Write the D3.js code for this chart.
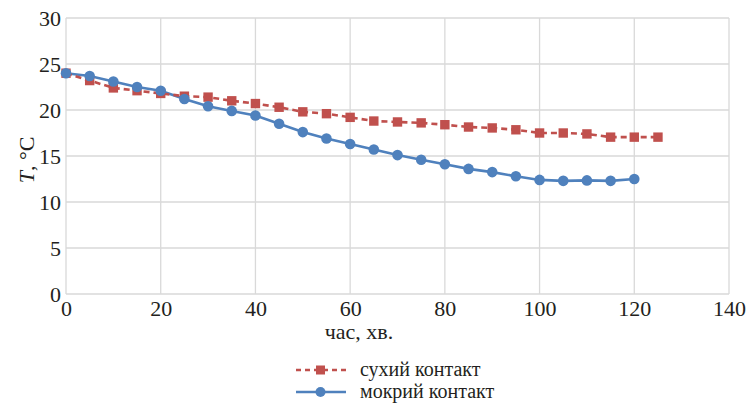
<!DOCTYPE html>
<html>
<head>
<meta charset="utf-8">
<script src="https://cdn.jsdelivr.net/npm/d3@7"></script>
<style>
  body { margin: 0; background: #fff; }
  text { font-family: "Liberation Serif", "Times New Roman", Tinos !important; }
</style>
</head>
<body>
<svg width="747" height="403"></svg>
<script>
// time in minutes
const timeDry = [0,5,10,15,20,25,30,35,40,45,50,55,60,65,70,75,80,85,90,95,100,105,110,115,120,125];
const tempDry = [24.0,23.2,22.4,22.1,21.8,21.5,21.4,21.0,20.7,20.3,19.8,19.6,19.2,18.8,18.7,18.6,18.4,18.15,18.05,17.85,17.5,17.5,17.4,17.05,17.05,17.05];
const timeWet = [0,5,10,15,20,25,30,35,40,45,50,55,60,65,70,75,80,85,90,95,100,105,110,115,120];
const tempWet = [24.0,23.7,23.1,22.5,22.1,21.2,20.4,19.9,19.4,18.5,17.6,16.9,16.3,15.7,15.1,14.6,14.1,13.6,13.25,12.8,12.4,12.3,12.35,12.3,12.5];
const xTicks = [0,20,40,60,80,100,120,140];
const yTicks = [0,5,10,15,20,25,30];
const seriesNames = ["сухий контакт", "мокрий контакт"];

const red = "#c0504d", blue = "#4f81bd", grid = "#d9d9d9", ink = "#231f20";

const svg = d3.select("svg").style("font-family", "'Liberation Serif'");
const padding = {left: 66, top: 18, right: 18, bottom: 109};
const w = 747, h = 403;

const xScale = d3.scaleLinear().domain([0, 140]).range([padding.left, w - padding.right]);
const yScale = d3.scaleLinear().domain([0, 30]).range([h - padding.bottom, padding.top]);

// grid
svg.append("g").selectAll("line").data(yTicks).enter().append("line")
  .attr("x1", xScale(0)).attr("x2", xScale(140))
  .attr("y1", d => yScale(d)).attr("y2", d => yScale(d))
  .attr("stroke", grid).attr("stroke-width", 1.3);
svg.append("g").selectAll("line").data(xTicks).enter().append("line")
  .attr("x1", d => xScale(d)).attr("x2", d => xScale(d))
  .attr("y1", yScale(0)).attr("y2", yScale(30))
  .attr("stroke", grid).attr("stroke-width", 1.3);

// axes (labels only)
const xAxis = d3.axisBottom(xScale).tickValues(xTicks).tickSize(0).tickPadding(6);
const yAxis = d3.axisLeft(yScale).tickValues(yTicks).tickSize(0).tickPadding(5);
const gx = svg.append("g").attr("transform", "translate(0," + yScale(0) + ")").call(xAxis);
const gy = svg.append("g").attr("transform", "translate(" + xScale(0) + ",0)").call(yAxis);
[gx, gy].forEach(g => {
  g.attr("font-family", null).attr("font-size", null);
  g.select(".domain").remove();
  g.selectAll("text").attr("fill", ink).attr("font-size", 22);
});
gx.selectAll("text").attr("dy", "0.71em");
gy.selectAll("text").attr("dy", "0.35em");

// axis titles
svg.append("text")
  .attr("x", 359).attr("y", 339)
  .attr("text-anchor", "middle")
  .attr("fill", ink).attr("font-size", 22)
  .text("час, хв.");

const yt = svg.append("text")
  .attr("transform", "translate(34,160) rotate(-90)")
  .attr("text-anchor", "middle")
  .attr("fill", ink).attr("font-size", 22);
yt.append("tspan").attr("font-style", "italic").text("T");
yt.append("tspan").text(", °C");

// lines
const dry = timeDry.map((t, i) => ({x: t, y: tempDry[i]}));
const wet = timeWet.map((t, i) => ({x: t, y: tempWet[i]}));
const line = d3.line().x(d => xScale(d.x)).y(d => yScale(d.y));

svg.append("path").datum(wet)
  .attr("d", line).attr("fill", "none")
  .attr("stroke", blue).attr("stroke-width", 2.6);
svg.append("path").datum(dry)
  .attr("d", line).attr("fill", "none")
  .attr("stroke", red).attr("stroke-width", 2.6)
  .attr("stroke-dasharray", "6,4");

svg.append("g").selectAll("rect").data(dry).enter().append("rect")
  .attr("x", d => xScale(d.x) - 4.7).attr("y", d => yScale(d.y) - 4.7)
  .attr("width", 9.4).attr("height", 9.4)
  .attr("fill", red);
svg.append("g").selectAll("circle").data(wet).enter().append("circle")
  .attr("cx", d => xScale(d.x)).attr("cy", d => yScale(d.y))
  .attr("r", 5.3)
  .attr("fill", blue);

// legend
const legend = svg.append("g").attr("transform", "translate(296,370)");
legend.append("line").attr("x1", 0).attr("x2", 50).attr("y1", 0).attr("y2", 0)
  .attr("stroke", red).attr("stroke-width", 2.6).attr("stroke-dasharray", "5,4");
legend.append("rect").attr("x", 20).attr("y", -4.5).attr("width", 9).attr("height", 9).attr("fill", red);
legend.append("line").attr("x1", 0).attr("x2", 50).attr("y1", 22).attr("y2", 22)
  .attr("stroke", blue).attr("stroke-width", 2.6);
legend.append("circle").attr("cx", 24.5).attr("cy", 22).attr("r", 5).attr("fill", blue);
legend.selectAll("text.lbl").data(seriesNames).enter().append("text")
  .attr("class", "lbl")
  .attr("x", 64).attr("y", (d, i) => i * 22 + 6)
  .attr("fill", ink).attr("font-size", 20)
  .text(d => d);
</script>
</body>
</html>
